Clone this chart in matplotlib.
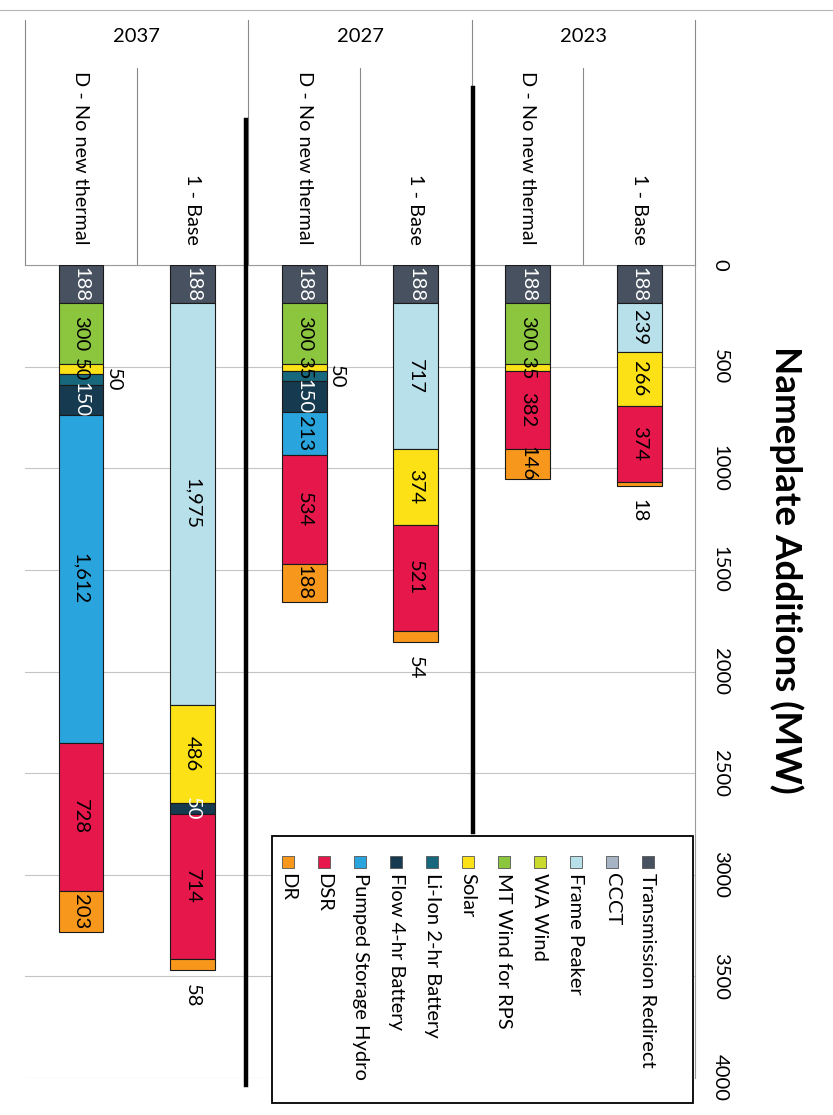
import matplotlib
matplotlib.use("Agg")
import matplotlib.pyplot as plt
from matplotlib.lines import Line2D
from matplotlib.patches import Rectangle

plt.rcParams['font.family'] = ['Lato', 'DejaVu Sans']

# ---------------- data ----------------
years = ["2023", "2027", "2037"]
scenarios = ["1 - Base", "D - No new thermal"]
categories = [("2023", "1 - Base"), ("2023", "D - No new thermal"),
              ("2027", "1 - Base"), ("2027", "D - No new thermal"),
              ("2037", "1 - Base"), ("2037", "D - No new thermal")]

series_names = ["Transmission Redirect", "CCCT", "Frame Peaker", "WA Wind",
                "MT Wind for RPS", "Solar", "Li-Ion 2-hr Battery",
                "Flow 4-hr Battery", "Pumped Storage Hydro", "DSR", "DR"]

transmission = [188, 188, 188, 188, 188, 188]
ccct = [0, 0, 0, 0, 0, 0]
frame_peaker = [239, 0, 717, 0, 1975, 0]
wa_wind = [0, 0, 0, 0, 0, 0]
mt_wind = [0, 300, 0, 300, 0, 300]
solar = [266, 35, 374, 35, 486, 50]
li_ion = [0, 0, 0, 50, 0, 50]
flow = [0, 0, 0, 150, 50, 150]
pumped = [0, 0, 0, 213, 0, 1612]
dsr = [374, 382, 521, 534, 714, 728]
dr = [18, 146, 54, 188, 58, 203]

series_values = [transmission, ccct, frame_peaker, wa_wind, mt_wind, solar,
                 li_ion, flow, pumped, dsr, dr]
colors = ["#47515f", "#a7b4c3", "#b8e0ea", "#c9da2c", "#8cc63f", "#fbe116",
          "#17677d", "#163a4f", "#29a4dc", "#e6184b", "#f7981d"]
label_colors = ["white", "black", "black", "black", "black", "black",
                "black", "white", "black", "black", "black"]

yticks = [0, 500, 1000, 1500, 2000, 2500, 3000, 3500, 4000]
title = "Nameplate Additions (MW)"

# ---------------- figure ----------------
W, H = 833, 1115
fig = plt.figure(figsize=(W / 100, H / 100), dpi=100)
fig.patch.set_facecolor("white")

def fx(x):
    return x / W

def fy(y):
    return 1 - y / H

AX_L, AX_R, AX_T, AX_B = 25, 695, 265, 1078
ax = fig.add_axes([fx(AX_L), fy(AX_B), (AX_R - AX_L) / W, (AX_B - AX_T) / H])
ax.set_xlim(-0.5, 5.5)
ax.set_ylim(4000, 0)

def afy(y):  # pixel y -> axes fraction
    return (AX_B - y) / (AX_B - AX_T)

n = len(categories)
pos = [n - 1 - i for i in range(n)]
bar_w = 0.40
FS_BAR = 14.5

bottoms = [0] * n
for s, (name, vals, col, lc) in enumerate(zip(series_names, series_values, colors, label_colors)):
    for i in range(n):
        v = vals[i]
        if v <= 0:
            continue
        ax.bar(pos[i], v, bottom=bottoms[i], width=bar_w, color=col,
               edgecolor="#1a1a1a", linewidth=0.8, zorder=3)
        mid = bottoms[i] + v / 2
        txt = f"{v:,}"
        if name == "DR" and v < 100:
            ax.annotate(txt, (pos[i], bottoms[i] + v), xytext=(0, -10),
                        textcoords="offset points", rotation=-90,
                        ha="center", va="top", fontsize=FS_BAR, color="black",
                        zorder=5)
        elif name == "Li-Ion 2-hr Battery":
            ax.annotate(txt, (pos[i] + bar_w / 2, mid), xytext=(1, 0),
                        textcoords="offset points", rotation=-90,
                        ha="left", va="center", fontsize=FS_BAR, color="black",
                        zorder=5)
        else:
            ax.text(pos[i], mid, txt, rotation=-90, ha="center", va="center",
                    fontsize=FS_BAR, color=lc, zorder=5)
        bottoms[i] += v

# axis styling
ax.set_xticks([])
ax.yaxis.tick_right()
ax.set_yticks(yticks)
ax.set_yticklabels([str(t) for t in yticks])
ax.tick_params(axis="y", length=0, pad=12, labelsize=14.5, labelrotation=-90)
for lab in ax.get_yticklabels():
    lab.set_verticalalignment("center")
ax.yaxis.grid(True, color="#c4c4c4", linewidth=0.8, zorder=0)
ax.set_axisbelow(True)
for sp in ["left", "bottom"]:
    ax.spines[sp].set_visible(False)
for sp in ["top", "right"]:
    ax.spines[sp].set_color("#9a9a9a")
    ax.spines[sp].set_linewidth(0.8)

# category label area
trans = ax.get_xaxis_transform()
for xv in [-0.5, 1.5, 3.5, 5.5]:
    ax.plot([xv, xv], [afy(20), afy(265)], transform=trans, clip_on=False,
            color="#8a8a8a", linewidth=0.8)
for xv in [0.5, 2.5, 4.5]:
    ax.plot([xv, xv], [afy(68), afy(265)], transform=trans, clip_on=False,
            color="#8a8a8a", linewidth=0.8)
for i, (yr, sc) in enumerate(categories):
    ax.text(pos[i], afy(245), sc, transform=trans, rotation=-90,
            ha="center", va="bottom", fontsize=14.3, clip_on=False)
for yr in years:
    idx = [i for i, c in enumerate(categories) if c[0] == yr]
    xc = sum(pos[i] for i in idx) / len(idx)
    ax.text(xc, afy(36), yr, transform=trans, ha="center", va="center",
            fontsize=14.5, clip_on=False)

# top border of scanned chart area
fig.add_artist(Line2D([0, 1], [fy(10), fy(10)], color="#b5b5b5", linewidth=0.8))

# hand-drawn thick separators
fig.add_artist(Line2D([fx(246), fx(246)], [fy(120), fy(1085)], color="black",
                      linewidth=3.2, zorder=8))
fig.add_artist(Line2D([fx(473), fx(473)], [fy(88), fy(832)], color="black",
                      linewidth=3.2, zorder=8))

# title
fig.text(fx(786), fy(570), title, rotation=-90, ha="center", va="center",
         fontsize=26.5, fontweight="bold")

# legend (rotated, drawn manually)
LG_L, LG_R, LG_T, LG_B = 272, 693, 836, 1103
fig.add_artist(Rectangle((fx(LG_L), fy(LG_B)), (LG_R - LG_L) / W, (LG_B - LG_T) / H,
                         transform=fig.transFigure, facecolor="white",
                         edgecolor="black", linewidth=1.3, zorder=9))
msz = 12
for k, (name, col) in enumerate(zip(series_names, colors)):
    xk = 648 - 36 * k
    fig.add_artist(Rectangle((fx(xk - msz / 2), fy(862 + msz / 2)), msz / W, msz / H,
                             transform=fig.transFigure, facecolor=col,
                             edgecolor="#555555", linewidth=0.6, zorder=10))
    fig.text(fx(xk), fy(873), name, rotation=-90, ha="center", va="top",
             fontsize=14.5, zorder=11)

fig.savefig("out.png", dpi=100)
